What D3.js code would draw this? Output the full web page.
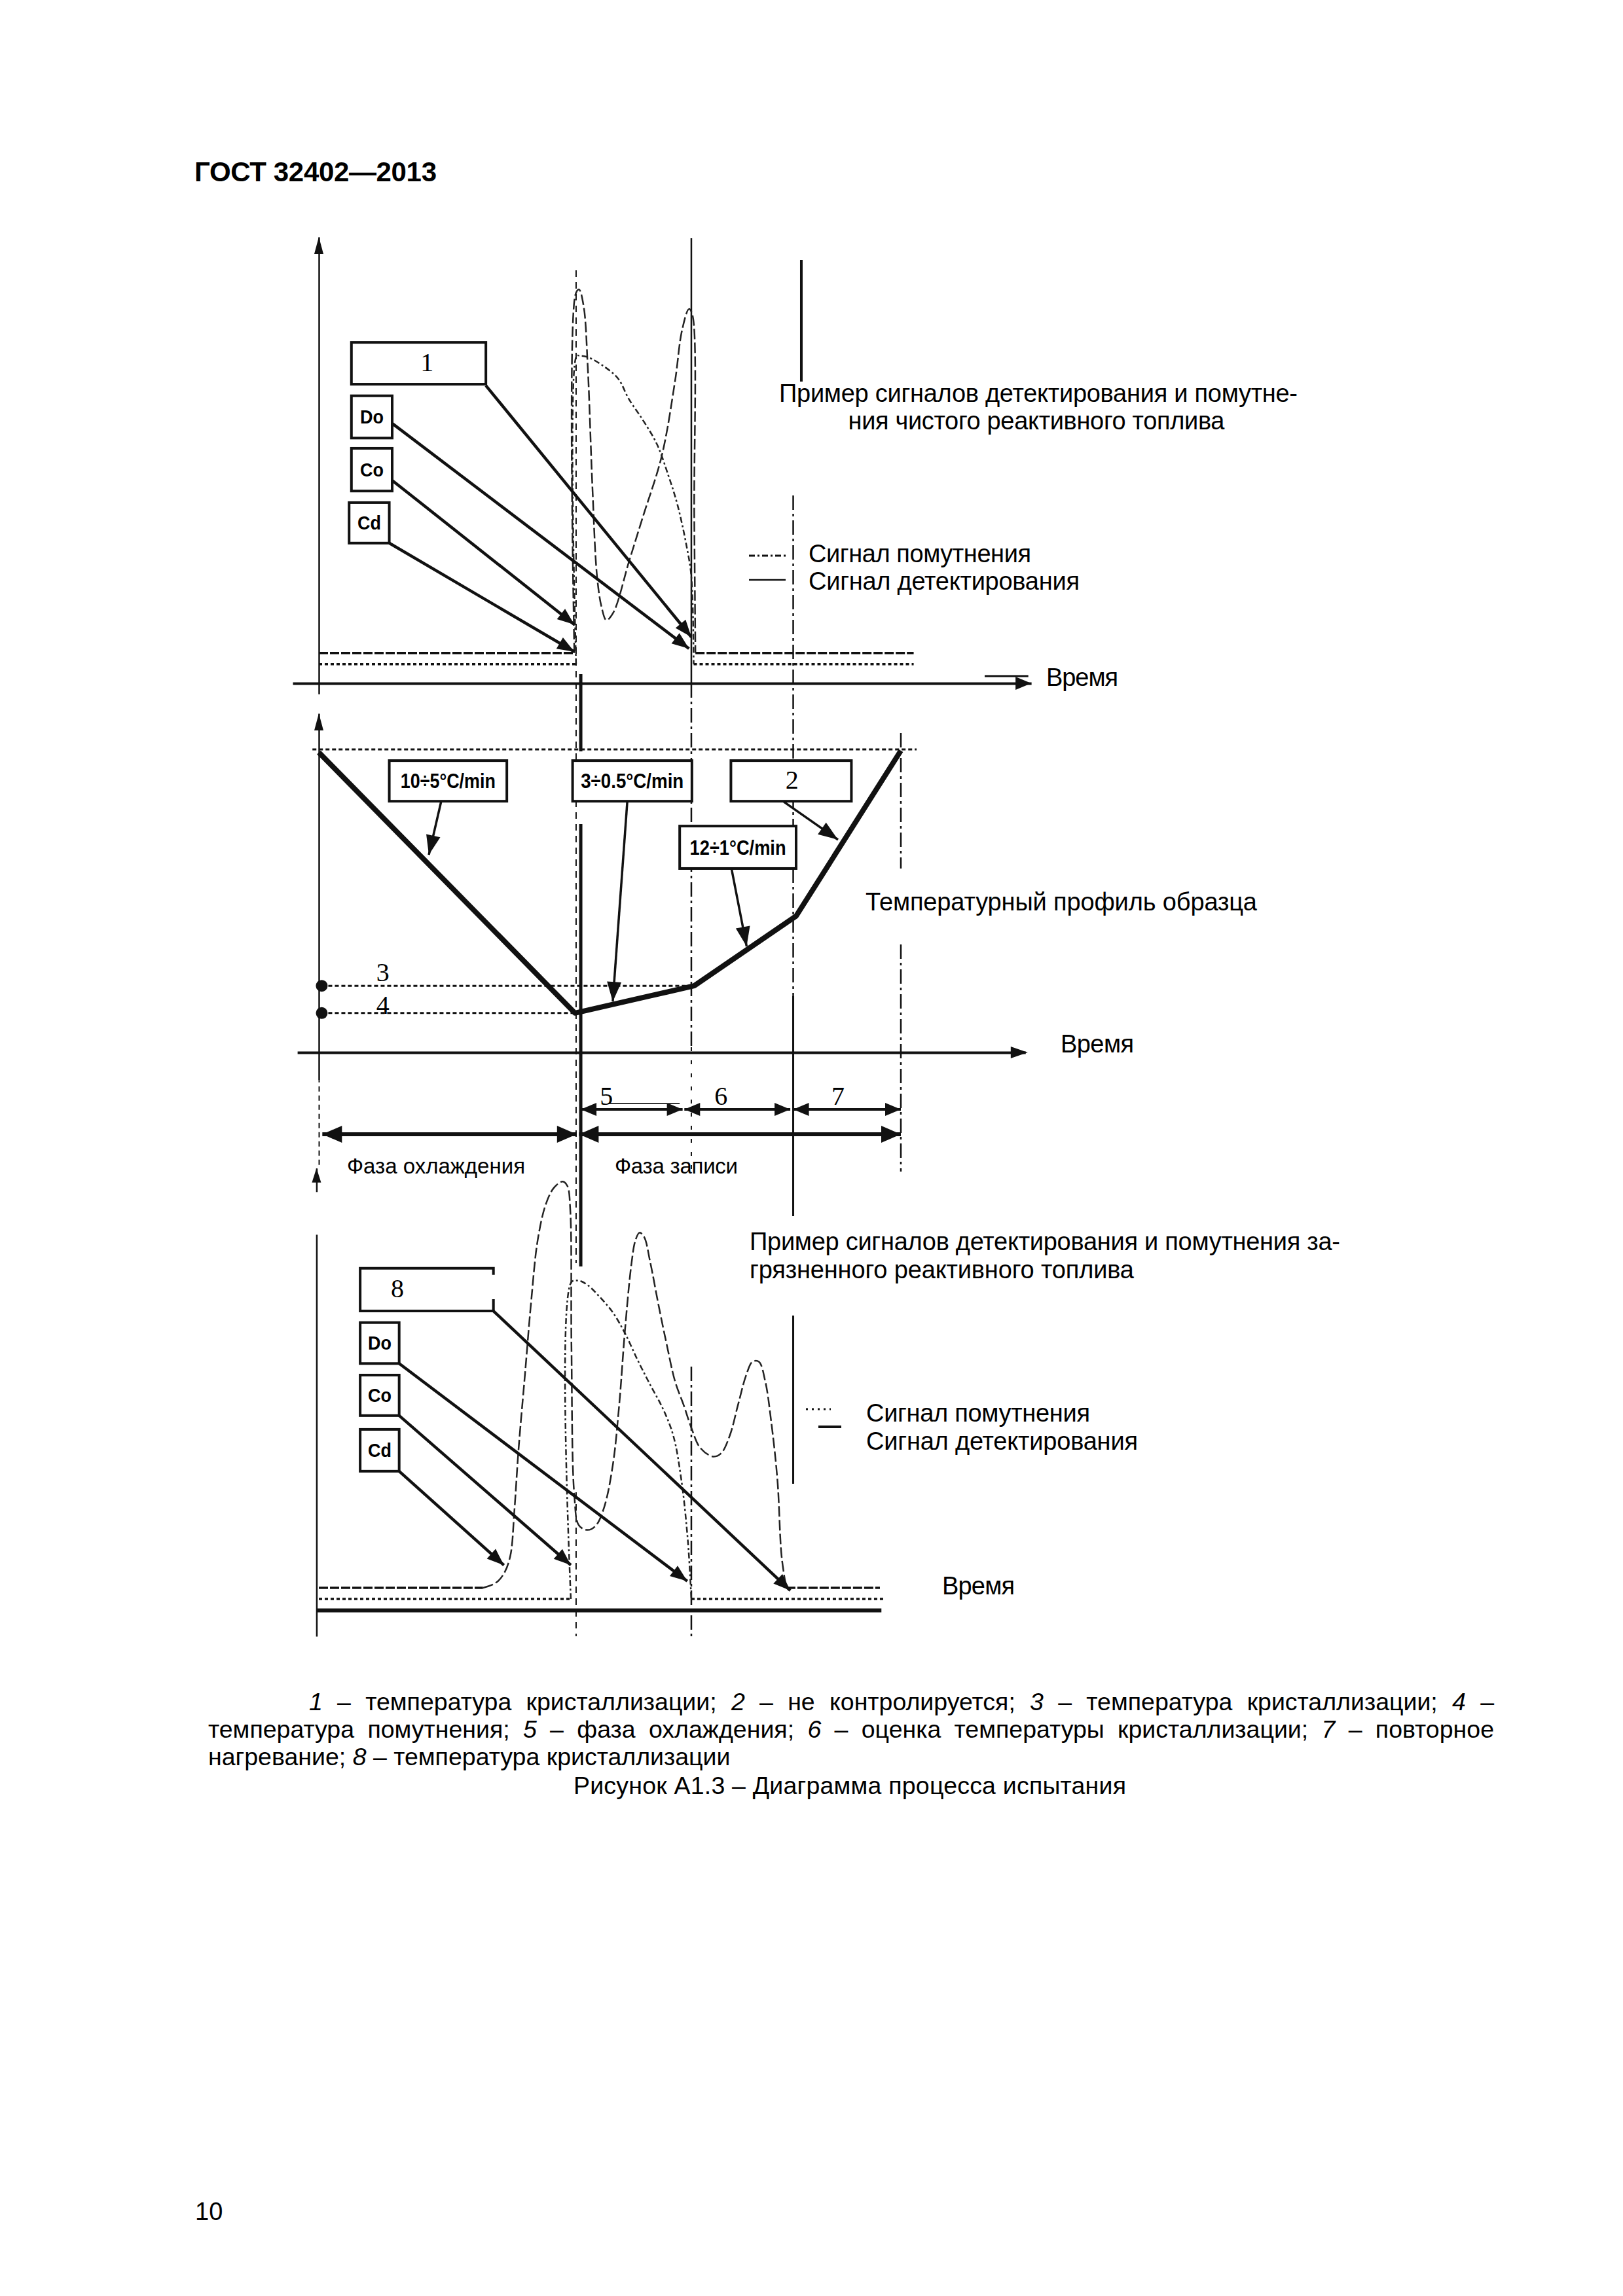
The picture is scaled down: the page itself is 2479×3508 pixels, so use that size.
<!DOCTYPE html>
<html lang="ru">
<head>
<meta charset="utf-8">
<title>ГОСТ 32402—2013, Рисунок А1.3</title>
<script src="https://cdn.jsdelivr.net/npm/d3@7"></script>
<style>
  body { margin: 0; background: #fff; }
  svg { display: block; }
</style>
</head>
<body>
<div id="page"></div>
<script>
// values.
// time t: 0 at the y axis, 100 at the end of reheating
// signals: 0..100 of a panel height, temperature: 0..100 of the profile panel

// top panel - clean jet fuel
const cleanDetectLeft = [[0, 6.8], [43.9, 6.8]]
const cleanDetect = [[43.9, 6.8], [44.1, 87.4], [44.7, 88.5], [45.5, 84.7], [46.2, 71.2], [47.0, 44.2],
  [47.8, 24.0], [48.6, 17.0], [49.4, 14.2], [50.6, 15.9], [53.3, 27.4], [55.7, 37.5], [58.9, 51.0],
  [61.2, 67.9], [62.4, 79.3], [63.6, 84.1], [64.2, 82.7], [64.5, 37.5], [64.7, 6.8]]
const cleanDetectRight = [[64.7, 6.8], [102.2, 6.8]]
const cleanTurbidLeft = [[0, 4.3], [44.2, 4.3]]
const cleanTurbid = [[44.2, 4.3], [44.3, 73.6], [44.8, 73.6], [46.2, 73.3], [49.0, 71.2], [51.4, 68.5],
  [53.3, 63.8], [55.7, 59.1], [58.1, 53.7], [60.0, 46.9], [61.6, 40.2], [63.2, 30.7], [64.0, 24.0], [64.4, 4.3]]
const cleanTurbidRight = [[64.4, 4.3], [102.2, 4.3]]

// middle panel - sample temperature profile
const profileTime = [0, 44, 64.5, 82, 100]
const profileTemp = [99, 13, 22, 45, 99.6]
const startTemp = 100
const crystTemp = 22   // 3
const cloudTemp = 13   // 4

// phases under the profile
const phaseNames = ['Фаза охлаждения', 'Фаза записи']
const phaseSpans = [[0.6, 44.3], [44.7, 100]]
const stepLabels = ['5', '6', '7']
const stepSpans = [[45, 62.5], [62.8, 81], [81.5, 100]]
const stepLabelT = [49.4, 69.1, 89.2]

// bottom panel - contaminated jet fuel
const dirtyDetectLeft = [[0, 5], [28.2, 5]]
const dirtyDetect = [[28.2, 5], [30.4, 6.1], [31.8, 8.2], [32.9, 12.2], [33.6, 22.4], [34.3, 35.9],
  [35.4, 52.7], [36.5, 69.6], [37.6, 83.1], [39.0, 91.2], [40.4, 94.9], [41.9, 96.3], [42.7, 95.3],
  [43.2, 89.9], [43.4, 59.5], [43.9, 25.7], [44.7, 19.0], [46.2, 18.0], [47.6, 19.0], [49.0, 23.0],
  [50.5, 32.5], [51.6, 46.0], [52.6, 62.9], [53.7, 77.7], [54.4, 83.1], [55.1, 84.8], [55.9, 83.8],
  [56.9, 78.4], [58.4, 68.3], [59.8, 59.5], [61.2, 51.4], [62.7, 46.0], [64.1, 40.6], [65.5, 36.5],
  [67.7, 34.5], [69.1, 35.2], [70.6, 39.2], [72.0, 46.0], [73.4, 52.7], [74.5, 55.8], [75.6, 55.8],
  [76.7, 51.4], [77.7, 42.6], [78.8, 29.1], [79.5, 12.2], [80.3, 5]]
const dirtyDetectRight = [[80.3, 5], [96.4, 5]]
const dirtyTurbidLeft = [[0, 2.5], [43.3, 2.5]]
const dirtyTurbid = [[43.3, 2.5], [43.4, 73.7], [44.7, 74.0], [46.2, 73.0], [48.3, 70.3], [50.5, 66.9],
  [52.6, 62.2], [54.8, 56.1], [56.9, 50.7], [59.1, 45.3], [60.9, 39.2], [62.3, 29.1], [63.4, 15.6], [64.0, 2.5]]
const dirtyTurbidRight = [[64.0, 2.5], [97, 2.5]]

// texts
const pageHeader = 'ГОСТ 32402—2013'
const pageNumber = '10'
const cleanTitle = ['Пример сигналов детектирования и помутне-', 'ния чистого реактивного топлива']
const dirtyTitle = ['Пример сигналов детектирования и помутнения за-', 'грязненного реактивного топлива']
const legendNames = ['Сигнал помутнения', 'Сигнал детектирования']
const timeLabel = 'Время'
const profileTitle = 'Температурный профиль образца'
const captionLines = [
  [['1', 1], [' – температура кристаллизации; '], ['2', 1], [' – не контролируется; '], ['3', 1],
   [' – температура кристаллизации; '], ['4', 1], [' –']],
  [['температура помутнения; '], ['5', 1], [' – фаза охлаждения; '], ['6', 1],
   [' – оценка температуры кристаллизации; '], ['7', 1], [' – повторное']],
  [['нагревание; '], ['8', 1], [' – температура кристаллизации']]
]
const figureTitle = 'Рисунок  А1.3 – Диаграмма процесса испытания'

// ---------------------------------------------------------------
const W = 2479, H = 3508
const ink = '#111'
const sans = '"Liberation Sans", Arial, sans-serif'
const serif = '"Liberation Serif", "Times New Roman", serif'

const x = d3.scaleLinear().domain([0, 100]).range([487, 1376])
const yTop = d3.scaleLinear().domain([0, 100]).range([1044, 364])
const yMid = d3.scaleLinear().domain([0, 100]).range([1608, 1145])
const yLow = d3.scaleLinear().domain([0, 100]).range([2460, 1780])

const svg = d3.select('#page').append('svg')
    .attr('width', W)
    .attr('height', H)
    .attr('viewBox', '0 0 ' + W + ' ' + H)
svg.append('rect').attr('width', W).attr('height', H).attr('fill', '#fff')

const gGuide = svg.append('g')
const gAxis = svg.append('g')
const gData = svg.append('g')
const gNote = svg.append('g')
const gText = svg.append('g')

// vertical guide lines through the panels (y in page pixels)
const dashDot = '22,6,4,6'
const guides = [
  { t: 44.2, y: [413, 1930], dash: '10,8', w: 2 },
  { t: 44.2, y: [2280, 2500], dash: '10,8', w: 2 },
  { t: 45, y: [1030, 1148], w: 5 },
  { t: 45, y: [1259, 1935], w: 5 },
  { t: 64, y: [364, 1044], w: 2.5 },
  { t: 64, y: [1044, 1600], dash: dashDot, w: 2.5 },
  { t: 64, y: [1600, 1800], dash: '6,14', w: 2 },
  { t: 64, y: [2088, 2500], dash: dashDot, w: 2.5 },
  { t: 81.5, y: [757, 1522], dash: dashDot, w: 2.5 },
  { t: 81.5, y: [1522, 1858], w: 3 },
  { t: 81.5, y: [2010, 2267], w: 3 },
  { t: 100, y: [1120, 1327], dash: dashDot, w: 2.5 },
  { t: 100, y: [1443, 1790], dash: dashDot, w: 2.5 },
  { t: 82.9, y: [397, 583], w: 4 }
]
gGuide.selectAll('line')
  .data(guides)
  .enter().append('line')
    .attr('x1', d => x(d.t))
    .attr('x2', d => x(d.t))
    .attr('y1', d => d.y[0])
    .attr('y2', d => d.y[1])
    .attr('stroke', ink)
    .attr('stroke-width', d => d.w)
    .attr('stroke-dasharray', d => d.dash || null)

// arrow helpers
function head(g, x1, y1, x2, y2, len, hw) {
  const a = Math.atan2(y2 - y1, x2 - x1)
  const bx = x2 - len * Math.cos(a), by = y2 - len * Math.sin(a)
  const pts = [[x2, y2], [bx + hw * Math.sin(a), by - hw * Math.cos(a)], [bx - hw * Math.sin(a), by + hw * Math.cos(a)]]
  g.append('path').attr('d', 'M' + pts.join('L') + 'Z').attr('fill', ink)
}
function arrow(g, x1, y1, x2, y2, o) {
  g.append('line')
    .attr('x1', x1).attr('y1', y1).attr('x2', x2).attr('y2', y2)
    .attr('stroke', ink).attr('stroke-width', o.w)
  head(g, x1, y1, x2, y2, o.len, o.hw)
  if (o.both) head(g, x2, y2, x1, y1, o.len, o.hw)
}

// axes: plain domain lines, no ticks
function hAxis(yPix, t0, t1, w) {
  const s = d3.scaleLinear().domain([t0, t1]).range([x(t0), x(t1)])
  const g = gAxis.append('g')
      .attr('transform', 'translate(0,' + yPix + ')')
      .call(d3.axisBottom(s).tickValues([]).tickSizeOuter(0))
  g.select('.domain').attr('stroke', ink).attr('stroke-width', w)
}
function vAxis(tPix, yScale, v0, v1, w, dash) {
  const s = d3.scaleLinear().domain([v0, v1]).range([yScale(v0), yScale(v1)])
  const g = gAxis.append('g')
      .attr('transform', 'translate(' + x(tPix) + ',0)')
      .call(d3.axisLeft(s).tickValues([]).tickSizeOuter(0))
  g.select('.domain').attr('stroke', ink).attr('stroke-width', w).attr('stroke-dasharray', dash || null)
}

// top panel axes
hAxis(yTop(0), -4.5, 122.4, 4)
head(gAxis, x(118), yTop(0), x(122.4), yTop(0), 24, 10)
gAxis.append('line')
  .attr('x1', x(114.4)).attr('x2', x(121.9))
  .attr('y1', yTop(0) - 11).attr('y2', yTop(0) - 11)
  .attr('stroke', ink).attr('stroke-width', 3)
vAxis(0, yTop, -2.4, 100.3, 2.5)
head(gAxis, x(0), yTop(95), x(0), yTop(100.3), 26, 7)

// middle panel axes
hAxis(yMid(0), -3.7, 121.4, 4)
head(gAxis, x(118), yMid(0), x(121.8), yMid(0), 26, 9)
vAxis(0, yMid, -9, 111.9, 2.5)
head(gAxis, x(0), yMid(105), x(0), yMid(111.9), 26, 7)
vAxis(0, yMid, -37, -9, 2, '8,6')

// bottom panel axes
hAxis(yLow(0), -0.4, 96.6, 6)
vAxis(-0.4, yLow, -5.9, 84.4, 2.5)
vAxis(-0.4, yLow, 94, 99.3, 2.5)
head(gAxis, x(-0.4), yLow(96), x(-0.4), yLow(99.3), 22, 7)

// signals
function drawSignal(yScale, parts, curve, style) {
  const straight = d3.line().x(d => x(d[0])).y(d => yScale(d[1]))
  const smooth = d3.line().x(d => x(d[0])).y(d => yScale(d[1])).curve(d3.curveCatmullRom.alpha(0.5))
  gData.append('path').attr('d', straight(parts[0]))
    .attr('fill', 'none').attr('stroke', ink).attr('stroke-width', 3.5).attr('stroke-dasharray', style.base)
  gData.append('path').attr('d', straight(parts[1]))
    .attr('fill', 'none').attr('stroke', ink).attr('stroke-width', 3.5).attr('stroke-dasharray', style.base)
  gData.append('path').attr('d', smooth(curve))
    .attr('fill', 'none').attr('stroke', '#222').attr('stroke-width', 2.5).attr('stroke-dasharray', style.line)
}
const detectStyle = { base: '14,3', line: '16,5' }
const turbidStyle = { base: '5,4', line: '9,4,3,4' }
drawSignal(yTop, [cleanDetectLeft, cleanDetectRight], cleanDetect, detectStyle)
drawSignal(yTop, [cleanTurbidLeft, cleanTurbidRight], cleanTurbid, turbidStyle)
drawSignal(yLow, [dirtyDetectLeft, dirtyDetectRight], dirtyDetect, detectStyle)
drawSignal(yLow, [dirtyTurbidLeft, dirtyTurbidRight], dirtyTurbid, turbidStyle)

// temperature profile
const profile = profileTime.map((t, i) => [t, profileTemp[i]])
const midLine = d3.line().x(d => x(d[0])).y(d => yMid(d[1]))
gData.append('path').attr('d', midLine([[-1.1, startTemp], [102.7, startTemp]]))
  .attr('fill', 'none').attr('stroke', ink).attr('stroke-width', 3).attr('stroke-dasharray', '6,4')
gData.append('path').attr('d', midLine([[0.5, crystTemp], [profileTime[2], crystTemp]]))
  .attr('fill', 'none').attr('stroke', ink).attr('stroke-width', 3).attr('stroke-dasharray', '6,4')
gData.append('path').attr('d', midLine([[0.5, cloudTemp], [profileTime[1], cloudTemp]]))
  .attr('fill', 'none').attr('stroke', ink).attr('stroke-width', 3).attr('stroke-dasharray', '6,4')
gData.selectAll('.level-dot')
  .data([crystTemp, cloudTemp])
  .enter().append('circle')
    .attr('class', 'level-dot')
    .attr('cx', x(0.5))
    .attr('cy', d => yMid(d))
    .attr('r', 9)
    .attr('fill', ink)
gData.append('path').attr('d', midLine(profile))
  .attr('fill', 'none').attr('stroke', ink).attr('stroke-width', 8).attr('stroke-linejoin', 'round')

// phase arrows
const stepY = 1695, phaseY = 1733
stepSpans.forEach(s => arrow(gNote, x(s[0]), stepY, x(s[1]), stepY, { w: 4, len: 24, hw: 10, both: true }))
phaseSpans.forEach(s => arrow(gNote, x(s[0]), phaseY, x(s[1]), phaseY, { w: 6, len: 30, hw: 13, both: true }))
gNote.append('line')
  .attr('x1', x(49.7)).attr('x2', x(62)).attr('y1', 1686).attr('y2', 1686)
  .attr('stroke', '#333').attr('stroke-width', 2)

// annotation boxes with arrows
const cleanNotes = [
  { label: '1', t: [5.6, 28.7], v: [76.6, 67.2], from: [28.7, 66.9], to: [64.0, 10.4], serif: true, lt: 18.6 },
  { label: 'Do', t: [5.6, 12.6], v: [64.6, 55.1], from: [12.6, 58.4], to: [63.6, 7.8] },
  { label: 'Co', t: [5.6, 12.6], v: [52.8, 43.2], from: [12.6, 45.6], to: [43.9, 13.2] },
  { label: 'Cd', t: [5.2, 12.1], v: [40.6, 31.5], from: [12.1, 31.5], to: [43.9, 7.1] }
]
const dirtyNotes = [
  { label: '8', t: [7.1, 30.0], v: [76.8, 67.2], from: [30.0, 67.2], to: [81.0, 4.4], serif: true, lt: 13.5, open: true },
  { label: 'Do', t: [7.1, 13.8], v: [64.6, 55.4], from: [13.8, 55.4], to: [63.3, 6.5] },
  { label: 'Co', t: [7.1, 13.8], v: [52.8, 43.7], from: [13.8, 43.7], to: [43.3, 10.1] },
  { label: 'Cd', t: [7.1, 13.8], v: [40.6, 31.2], from: [13.8, 31.2], to: [31.8, 10.1] }
]
const rateNotes = [
  { label: '10÷5°C/min', t: [12.1, 32.3], v: [96.3, 82.9], from: [21.0, 82.7], to: [18.9, 65.2], len: 145 },
  { label: '3÷0.5°C/min', t: [43.6, 64.1], v: [96.3, 82.9], from: [53.0, 82.9], to: [50.5, 16.8], len: 157 },
  { label: '2', t: [70.8, 91.5], v: [96.3, 82.9], from: [79.9, 82.7], to: [89.2, 70.2], serif: true, lt: 81.3 },
  { label: '12÷1°C/min', t: [62.0, 82.0], v: [74.7, 60.7], from: [70.9, 60.7], to: [73.5, 35.0], len: 147 }
]

function drawNotes(notes, yScale, o) {
  notes.forEach(n => {
    const x0 = x(n.t[0]), x1 = x(n.t[1]), y0 = yScale(n.v[0]), y1 = yScale(n.v[1])
    if (n.open) {
      gNote.append('rect').attr('x', x0).attr('y', y0).attr('width', x1 - x0).attr('height', y1 - y0).attr('fill', '#fff')
      gNote.append('path')
        .attr('d', 'M' + x1 + ',' + (y0 + 10) + 'V' + y0 + 'H' + x0 + 'V' + y1 + 'H' + x1 + 'V' + (y1 - 18))
        .attr('fill', 'none').attr('stroke', ink).attr('stroke-width', 4)
    } else {
      gNote.append('rect')
        .attr('x', x0).attr('y', y0).attr('width', x1 - x0).attr('height', y1 - y0)
        .attr('fill', '#fff').attr('stroke', ink).attr('stroke-width', 4)
    }
    arrow(gNote, x(n.from[0]), yScale(n.from[1]), x(n.to[0]), yScale(n.to[1]), o)
    const cx = n.lt != null ? x(n.lt) : (x0 + x1) / 2
    const tx = gText.append('text')
        .attr('x', cx)
        .attr('text-anchor', 'middle')
        .attr('fill', '#000')
        .text(n.label)
    if (n.serif) {
      tx.attr('y', (y0 + y1) / 2 + 12).attr('font-family', serif).attr('font-size', 40)
    } else if (n.len) {
      tx.attr('y', (y0 + y1) / 2 + 11).attr('font-family', '"Liberation Sans Narrow", ' + sans)
        .attr('font-weight', 'bold').attr('font-size', 32)
        .attr('textLength', n.len).attr('lengthAdjust', 'spacingAndGlyphs')
    } else {
      tx.attr('y', (y0 + y1) / 2 + 10).attr('font-family', sans)
        .attr('font-weight', 'bold').attr('font-size', 29)
        .attr('textLength', 36).attr('lengthAdjust', 'spacingAndGlyphs')
    }
  })
}
drawNotes(cleanNotes, yTop, { w: 4.5, len: 26, hw: 10 })
drawNotes(dirtyNotes, yLow, { w: 4.5, len: 26, hw: 10 })
drawNotes(rateNotes, yMid, { w: 3.5, len: 30, hw: 11 })

// legend samples
gNote.append('line').attr('x1', 1144).attr('x2', 1203).attr('y1', 849).attr('y2', 849)
  .attr('stroke', ink).attr('stroke-width', 3).attr('stroke-dasharray', turbidStyle.line)
gNote.append('line').attr('x1', 1144).attr('x2', 1200).attr('y1', 886).attr('y2', 886)
  .attr('stroke', ink).attr('stroke-width', 2.5)
gNote.append('line').attr('x1', 1231).attr('x2', 1269).attr('y1', 2153).attr('y2', 2153)
  .attr('stroke', ink).attr('stroke-width', 3).attr('stroke-dasharray', '3,6')
gNote.append('line').attr('x1', 1250).attr('x2', 1285).attr('y1', 2180).attr('y2', 2180)
  .attr('stroke', ink).attr('stroke-width', 4)

// numbered labels 3, 4 and 5, 6, 7
function serifLabel(xp, yp, s) {
  gText.append('text').attr('x', xp).attr('y', yp).attr('text-anchor', 'middle')
    .attr('font-family', serif).attr('font-size', 40).attr('fill', '#000').text(s)
}
serifLabel(x(11), yMid(crystTemp) - 7, '3')
serifLabel(x(11), yMid(cloudTemp) + 1, '4')
stepLabels.forEach((s, i) => serifLabel(x(stepLabelT[i]), 1688, s))

// plain texts
function txt(xp, yp, s, o) {
  const t = gText.append('text')
      .attr('x', xp).attr('y', yp)
      .attr('font-family', sans)
      .attr('font-size', o.size || 38)
      .attr('font-weight', o.bold ? 'bold' : null)
      .attr('text-anchor', o.anchor || 'start')
      .attr('fill', '#000')
      .text(s)
  if (o.len) t.attr('textLength', o.len).attr('lengthAdjust', 'spacing')
  return t
}
txt(297, 277, pageHeader, { size: 42, bold: true, len: 370 })
txt(298, 3392, pageNumber, { size: 38 })

txt(1190, 614, cleanTitle[0], { len: 792 })
txt(1583, 656, cleanTitle[1], { anchor: 'middle', len: 575 })
txt(1235, 859, legendNames[0], { len: 340 })
txt(1235, 901, legendNames[1], { len: 414 })
txt(1598, 1048, timeLabel, { len: 110 })

txt(1322, 1391, profileTitle, { len: 598 })
txt(1620, 1608, timeLabel, { len: 112 })
txt(530, 1793, phaseNames[0], { size: 33, len: 272 })
txt(939, 1793, phaseNames[1], { size: 33, len: 188 })

txt(1145, 1910, dirtyTitle[0], { len: 902 })
txt(1145, 1953, dirtyTitle[1], { len: 587 })
txt(1323, 2172, legendNames[0], { len: 342 })
txt(1323, 2215, legendNames[1], { len: 415 })
txt(1439, 2436, timeLabel, { len: 111 })

// caption, first two lines justified
const capX = [472, 318, 318], capY = [2613, 2655, 2697], capRight = 2282
captionLines.forEach((runs, i) => {
  const t = gText.append('text')
      .attr('x', capX[i]).attr('y', capY[i])
      .attr('font-family', sans).attr('font-size', 37.5).attr('fill', '#000')
      .style('white-space', 'pre')
  runs.forEach(r => {
    t.append('tspan').attr('font-style', r[1] ? 'italic' : null).text(r[0])
  })
  if (i < 2) {
    const natural = t.node().getComputedTextLength()
    const spaces = (t.text().match(/ /g) || []).length
    t.style('word-spacing', ((capRight - capX[i] - natural) / spaces) + 'px')
  }
})
txt(1298, 2741, figureTitle, { anchor: 'middle', size: 37.5, len: 844 })
</script>
</body>
</html>
